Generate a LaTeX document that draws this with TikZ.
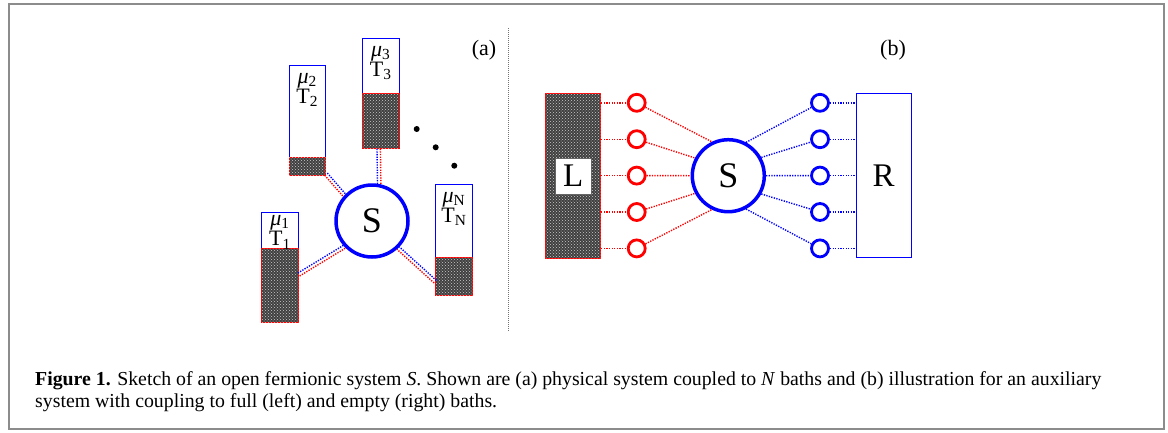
\documentclass[tikz,border=0pt]{standalone}
\usepackage{amsmath}
\usepackage{fontspec}
\setmainfont{Liberation Serif}
\usepackage{tikz}
\usetikzlibrary{positioning, calc, patterns}

% one coupling = a red and a blue dotted line side by side
\newcommand{\coupling}[4]{%
  \draw[redlink] ($(#1)!#4!90:(#2)$) -- ($(#2)!#4!-90:(#1)$);
  \draw[bluelink] ($(#1)!#3!90:(#2)$) -- ($(#2)!#3!-90:(#1)$);}

\begin{document}
\begin{tikzpicture}[
    x=1pt, y=-1pt,
    bath/.style={rectangle, draw=blue, fill=white, line width=0.9pt, minimum width=36.6pt, inner sep=0pt},
    full/.style={rectangle, draw=red, line width=0.9pt, fill=black!75, postaction={pattern=crosshatch dots, pattern color=white!80!black}, minimum width=36.6pt, inner sep=0pt},
    bathlabel/.style={font=\fontsize{22}{18}\selectfont, align=center, inner sep=0pt, below=8pt},
    system/.style={circle, draw=blue, line width=3.5pt, fill=white, minimum size=72pt, inner sep=0pt, font=\fontsize{36}{36}\selectfont},
    site/.style={circle, line width=2.8pt, minimum size=17pt, inner sep=0pt},
    redlink/.style={red, line width=1.4pt, dash pattern=on 1.3pt off 1.3pt},
    bluelink/.style={blue, line width=1.4pt, dash pattern=on 1.3pt off 1.3pt},
    panel/.style={font=\fontsize{22}{22}\selectfont, inner sep=0pt},
    caption/.style={font=\fontsize{19.8}{22}\selectfont, align=left, anchor=north west, inner sep=0pt}
]
\useasboundingbox (0,0) rectangle (1168,432);

% frame
\draw[black!45, line width=2pt] (9,3.5) rectangle (1164,429);

% (a) physical system with N baths
\node[system] (sysA) at (372,221) {S};

\node[bath, minimum height=110pt] (bath1) at (280,267) {};
\node[full, minimum height=74pt, anchor=south] (full1) at (bath1.south) {};
\node[bathlabel, below=4pt] at (bath1.north) {\textit{μ}\textsubscript{1}\\T\textsubscript{1}};

\node[bath, minimum height=110pt] (bath2) at (307.3,120.7) {};
\node[full, minimum height=18.7pt, anchor=south] (full2) at (bath2.south) {};
\node[bathlabel] at (bath2.north) {\textit{μ}\textsubscript{2}\\T\textsubscript{2}};

\node[bath, minimum height=110pt] (bath3) at (380.7,93.3) {};
\node[full, minimum height=55pt, anchor=south] (full3) at (bath3.south) {};
\node[bathlabel] at (bath3.north) {\textit{μ}\textsubscript{3}\\T\textsubscript{3}};

\node[bath, minimum height=110.7pt] (bathN) at (454,239.7) {};
\node[full, minimum height=37.3pt, anchor=south] (fullN) at (bathN.south) {};
\node[bathlabel] at (bathN.north) {\textit{μ}\textsubscript{N}\\T\textsubscript{N}};

\coordinate (c1) at ($(bath1.east)+(0,7.5)$);
\coordinate (c2) at ($(bath2.south east)+(0,-2)$);
\coordinate (c3) at ($(bath3.south)+(-2,0)$);
\coordinate (cN) at ($(bathN.west)+(0,42)$);
\coupling{c1}{sysA.223}{1.7pt}{-1.7pt}
\coupling{c2}{sysA.137}{1.7pt}{-1.7pt}
\coupling{c3}{sysA.79}{-1.7pt}{1.7pt}
\coupling{cN}{sysA.314}{-1.7pt}{1.7pt}

% dots
\foreach \p in {(416.7,129), (435.7,147.3), (454.3,165.7)}
  \fill \p circle (3pt);

\node[panel] (labA) at (484,50) {(a)};

% divider
\draw[black!55, line width=0.8pt, dash pattern=on 1pt off 1pt] (508.3,28) -- (508.3,332);

% (b) auxiliary system
\node[panel] (labB) at (893,50) {(b)};
\node[system] (sysB) at (728.3,175.7) {S};
\node[full, minimum width=55pt, minimum height=165pt] (L) at (573.2,175.8) {};
\node[fill=white, draw=black!60, line width=0.6pt, minimum size=36pt, inner sep=0pt, font=\fontsize{33}{33}\selectfont] (Lname) at (L.center) {L};
\node[rectangle, draw=blue, line width=0.9pt, minimum width=55pt, minimum height=164.4pt, inner sep=0pt, font=\fontsize{33}{33}\selectfont] (R) at (883.5,175.5) {R};

\foreach \i/\a/\b in {1/116/62, 2/152/29, 3/180/0, 4/208/-29, 5/244/-62} {
  \node[site, draw=red] (lc\i) at (636.7,{175.6+(\i-3)*36.4}) {};
  \node[site, draw=blue] (rc\i) at (820,{175.6+(\i-3)*36.4}) {};
  \draw[redlink] (lc\i -| L.east) -- (lc\i);
  \draw[redlink] (lc\i) -- (sysB.\a);
  \draw[bluelink] (sysB.\b) -- (rc\i);
  \draw[bluelink] (rc\i) -- (rc\i -| R.west);
}

% caption
\node[caption] (cap) at (35,371) {\textbf{Figure 1.} Sketch of an open fermionic system \textit{S}. Shown are (a) physical system coupled to \textit{N} baths and (b) illustration for an auxiliary\\system with coupling to full (left) and empty (right) baths.};

\end{tikzpicture}
\end{document}
